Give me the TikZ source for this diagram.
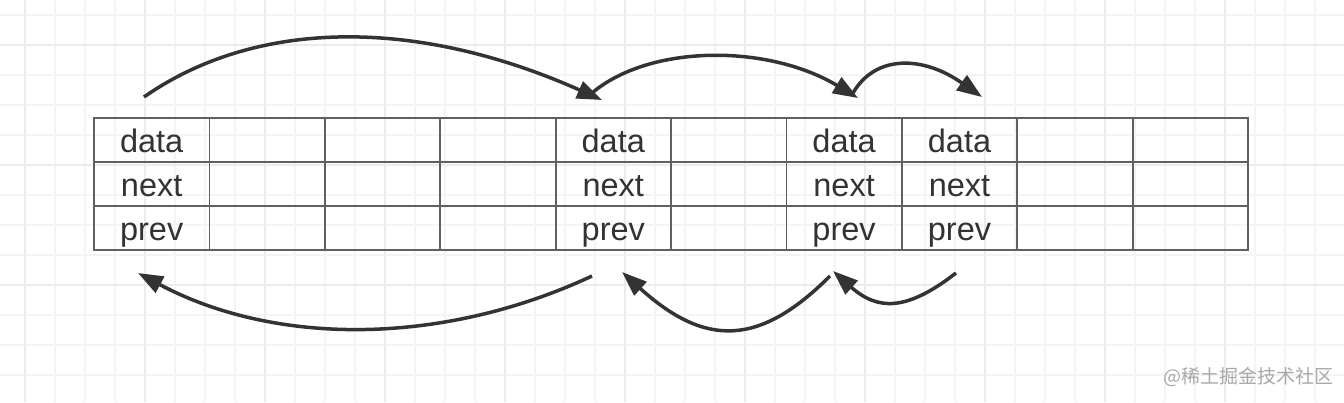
\documentclass[tikz,border=0pt]{standalone}
\usepackage{fontspec}
\setmainfont{Liberation Sans}
\newfontfamily\cjk{Noto Sans CJK SC}
\usetikzlibrary{arrows.meta}
\definecolor{ink}{HTML}{333333}
\definecolor{cellline}{HTML}{606060}
\definecolor{gridminor}{HTML}{F4F4F4}
\definecolor{gridmajor}{HTML}{ECECEC}
\definecolor{wmark}{HTML}{A8A8A8}
\begin{document}
\begin{tikzpicture}[x=1pt,y=-1pt,
  cell/.style={draw=cellline,line width=1.8pt,minimum width=115.4pt,minimum height=44pt,inner sep=0pt,outer sep=0pt},
  lbl/.style={font=\fontsize{32.5}{36}\selectfont,text=ink,anchor=base,inner sep=0pt},
  link/.style={draw=ink,line width=3.5pt,-{Triangle[length=25pt,width=18pt]}}]
\useasboundingbox (0,0) rectangle (1344,402);
\fill[white] (0,0) rectangle (1344,402);
% background grid
\foreach \x in {25,55,...,1344} \draw[gridminor,line width=1.5pt] (\x,0) -- (\x,402);
\foreach \y in {15,45,...,402} \draw[gridminor,line width=1.5pt] (0,\y) -- (1344,\y);
\foreach \x in {25,145,...,1344} \draw[gridmajor,line width=1.8pt] (\x,0) -- (\x,402);
\foreach \y in {45,165,285} \draw[gridmajor,line width=1.8pt] (0,\y) -- (1344,\y);
% table cells
\foreach \i in {0,...,9}
  \foreach \j in {0,1,2}
    \node[cell] (c\i-\j) at ({94+115.4*(\i+0.5)},{140+44*\j}) {};
% labels
\foreach \i in {0,4,6,7} {
  \node[lbl] (d\i) at ({94+115.4*(\i+0.5)},152) {data};
  \node[lbl] (n\i) at ({94+115.4*(\i+0.5)},196) {next};
  \node[lbl] (p\i) at ({94+115.4*(\i+0.5)},240) {prev};
}
% arrow end points
\coordinate (t1s) at (144,97);  \coordinate (t1e) at (602,100);
\coordinate (t2s) at (592,93);  \coordinate (t2e) at (858,98);
\coordinate (t3s) at (853,93);  \coordinate (t3e) at (982,97);
\coordinate (b1s) at (592,276); \coordinate (b1e) at (138,273);
\coordinate (b2s) at (830,276); \coordinate (b2e) at (622,272);
\coordinate (b3s) at (956,273); \coordinate (b3e) at (833,271);
% next arrows
\draw[link] (t1s) .. controls (257,18) and (418,18) .. (t1e);
\draw[link] (t2s) .. controls (650,44) and (768,44) .. (t2e);
\draw[link] (t3s) .. controls (875,55) and (922,55) .. (t3e);
% prev arrows
\draw[link] (b1s) .. controls (442,346) and (275,346) .. (b1e);
\draw[link] (b2s) .. controls (759,347) and (705,347) .. (b2e);
\draw[link] (b3s) .. controls (907,311) and (878,311) .. (b3e);
% watermark
\node[text=wmark,font=\cjk\fontsize{19}{22}\selectfont,inner sep=0pt] (wm) at (1248,377) {@稀土掘金技术社区};
\end{tikzpicture}
\end{document}
